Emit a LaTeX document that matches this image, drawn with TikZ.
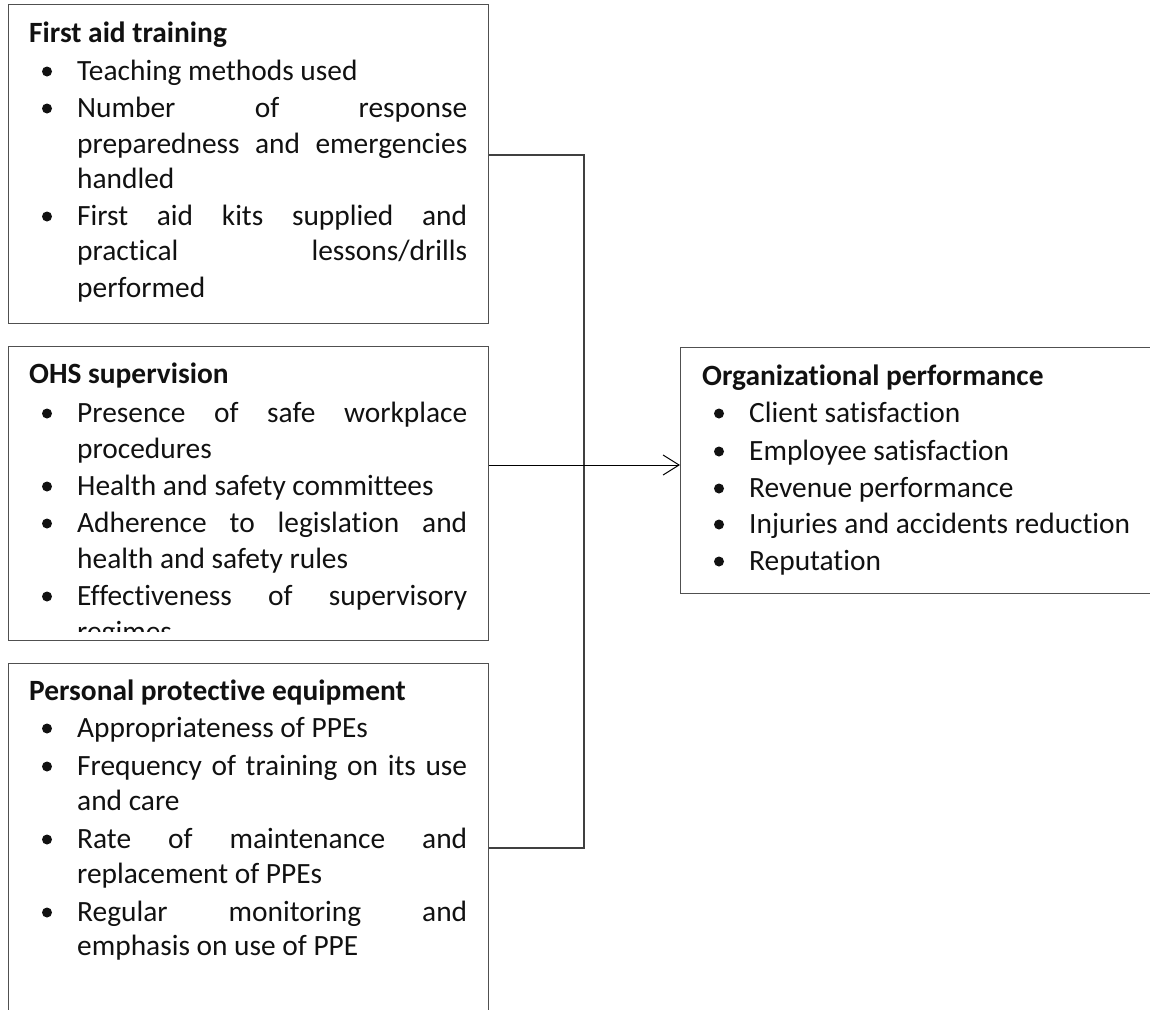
\documentclass[tikz,border=0pt]{standalone}
\usepackage{fontspec}
\setmainfont{Carlito}[Ligatures=NoCommon]
\usetikzlibrary{arrows.meta}
\definecolor{boxgray}{HTML}{505050}
\definecolor{linegray}{HTML}{404040}
\definecolor{ink}{HTML}{111111}

% one bulleted line: #1 name, #2 x of the text, #3 baseline y, #4 text
\newcommand\itemline[4]{%
  \node[dot] (#1d) at (#2-30,#3-8.5) {};
  \node[itm] (#1) at (#2,#3) {#4};}
% a line set flush to both margins
\newcommand\jl[1]{\makebox[390pt][s]{#1}}

\begin{document}
\begin{tikzpicture}[x=1pt,y=-1pt,
  txt/.style={inner sep=0pt,anchor=base west,text=ink,
    font=\fontsize{29.4pt}{35pt}\selectfont},
  ttl/.style={txt,font=\fontsize{29.4pt}{35pt}\selectfont\bfseries},
  itm/.style={txt},
  dot/.style={circle,fill=ink,inner sep=0pt,minimum size=10pt},
  box/.style={draw=boxgray,line width=1.4pt,inner sep=0pt,anchor=north west},
  conn/.style={draw=linegray,line width=1.2pt},
  arr/.style={draw=black,line width=1pt,-{Straight Barb[length=16pt,width=20pt,line width=1pt]}}]
\useasboundingbox (0,0) rectangle (1150,1009);

% boxes
\node[box,minimum width=480pt,minimum height=319pt] (b1) at (8,4) {};
\node[box,minimum width=480pt,minimum height=294pt] (b2) at (8,346) {};
\node[box,minimum width=480pt,minimum height=360pt] (b3) at (8,663) {};
\node[box,minimum width=490pt,minimum height=246pt] (b4) at (680,347) {};

% first aid training
\node[ttl] (t1) at (29,42) {First aid training};
\itemline{a1}{77}{80}{Teaching methods used}
\itemline{a2}{77}{117}{\jl{Number of response}}
\node[itm] (a2b) at (77,153) {\jl{preparedness and emergencies}};
\node[itm] (a2c) at (77,188) {handled};
\itemline{a3}{77}{225}{\jl{First aid kits supplied and}}
\node[itm] (a3b) at (77,260) {\jl{practical lessons/drills}};
\node[itm] (a3c) at (77,297) {performed};

% OHS supervision
\begin{scope}
  \clip (8,346) rectangle (488,631);
  \node[ttl] (t2) at (29,383) {OHS supervision};
  \itemline{s1}{77}{422}{\jl{Presence of safe workplace}}
  \node[itm] (s1b) at (77,458) {procedures};
  \itemline{s2}{77}{495}{Health and safety committees}
  \itemline{s3}{77}{532}{\jl{Adherence to legislation and}}
  \node[itm] (s3b) at (77,568) {health and safety rules};
  \itemline{s4}{77}{605}{\jl{Effectiveness of supervisory}}
  \node[itm] (s4b) at (77,641) {regimes};
\end{scope}

% personal protective equipment
\node[ttl] (t3) at (29,700) {Personal protective equipment};
\itemline{p1}{77}{737}{Appropriateness of PPEs}
\itemline{p2}{77}{775}{\jl{Frequency of training on its use}}
\node[itm] (p2b) at (77,810) {and care};
\itemline{p3}{77}{848}{\jl{Rate of maintenance and}}
\node[itm] (p3b) at (77,883) {replacement of PPEs};
\itemline{p4}{77}{921}{\jl{Regular monitoring and}}
\node[itm] (p4b) at (77,955) {emphasis on use of PPE};

% organizational performance
\node[ttl] (t4) at (702,385) {Organizational performance};
\itemline{o1}{749}{422}{Client satisfaction}
\itemline{o2}{749}{460}{Employee satisfaction}
\itemline{o3}{749}{497}{Revenue performance}
\itemline{o4}{749}{533}{Injuries and accidents reduction}
\itemline{o5}{749}{570}{Reputation}

% connectors
\coordinate (jtop) at (584,155);
\coordinate (jbot) at (584,848);
\coordinate (jmid) at (584,465);
\draw[conn] (b1.east |- jtop) -- (jtop) -- (jbot) -- (b3.east |- jbot);
\draw[arr] (b2.east |- jmid) -- (b4.west |- jmid);
\end{tikzpicture}
\end{document}
